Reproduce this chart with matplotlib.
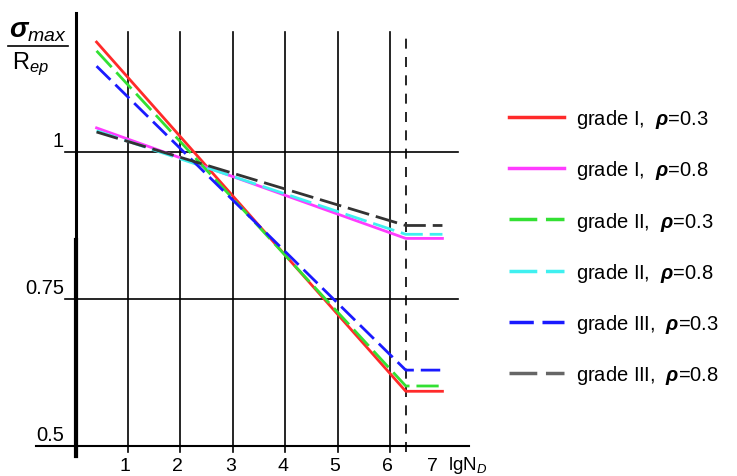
import matplotlib.pyplot as plt
from matplotlib.lines import Line2D

plt.rcParams['font.family'] = ['Liberation Sans', 'DejaVu Sans']
plt.rcParams['mathtext.fontset'] = 'custom'
plt.rcParams['mathtext.rm'] = 'Liberation Sans'
plt.rcParams['mathtext.it'] = 'Liberation Sans:italic'
plt.rcParams['mathtext.bf'] = 'Liberation Sans:bold'
plt.rcParams['mathtext.bfit'] = 'Liberation Sans:italic:bold'

# lgN_D points: start, knee (dashed line), end
lg_n = [0.4, 6.3, 7.0]

grade1_r03 = [1.187, 0.593, 0.593]
grade1_r08 = [1.041, 0.853, 0.853]
grade2_r03 = [1.172, 0.602, 0.602]
grade2_r08 = [1.036, 0.860, 0.860]
grade3_r03 = [1.146, 0.629, 0.629]
grade3_r08 = [1.034, 0.875, 0.875]

labels = [r"grade I,  $\mathbfit{\rho}$=0.3", r"grade I,  $\mathbfit{\rho}$=0.8",
          r"grade II,  $\mathbfit{\rho}$=0.3", r"grade II,  $\mathbfit{\rho}$=0.8",
          r"grade III,  $\mathbfit{\rho}$=0.3", r"grade III,  $\mathbfit{\rho}$=0.8"]
series = [grade1_r03, grade1_r08, grade2_r03, grade2_r08, grade3_r03, grade3_r08]
colors = ['#ff2a2a', '#ff3cff', '#33e033', '#3ff0f0', '#1a1aff', '#333333']
styles = ['-', '-', (0, (8, 2.5)), (0, (8, 2.5)), (0, (7, 2.5)), (0, (8, 2.5))]

x_ticks = [1, 2, 3, 4, 5, 6]
knee = 6.3

fig = plt.figure(figsize=(7.37, 4.77), dpi=100)
ax = fig.add_axes([0.0457, 0.026, 0.5973, 0.9614])
ax.set_xlim(-0.8, 7.6)
ax.set_ylim(0.47, 1.25)
ax.axis('off')

# grid / frame
for xt in x_ticks:
    ax.plot([xt, xt], [0.49, 1.204], color='black', lw=1.2, clip_on=False)
ax.plot([knee, knee], [0.49, 1.204], color='black', lw=1.2, ls=(0, (6, 5)), clip_on=False)
for yv in [1.0, 0.75]:
    ax.plot([-0.2, 7.3], [yv, yv], color='black', lw=1.2, clip_on=False)
ax.plot([-0.75, 7.5], [0.5, 0.5], color='black', lw=1.5, clip_on=False)
ax.plot([0, 0], [0.483, 1.236], color='black', lw=2.2, clip_on=False)
ax.plot([0, 0], [0.483, 0.85], color='black', lw=3.0, clip_on=False)

for ys, c, ls, lab in zip(series, colors, styles, labels):
    ax.plot(lg_n, ys, color=c, ls=ls, lw=2.0, label=lab, clip_on=False)

# tick labels
for xt in x_ticks + [7]:
    ax.text(xt - 0.05 if xt < 7 else 6.8, 0.466, str(xt), ha='center', va='center', fontsize=14)
ax.text(7.48, 0.469, r"lgN$_{\mathit{D}}$", ha='center', va='center', fontsize=13.5)
for yv, lab in [(1.0, "1"), (0.75, "0.75"), (0.5, "0.5")]:
    ax.text(-0.22, yv + 0.003, lab, ha='right', va='bottom', fontsize=14.5)

# y label as a fraction
fig.text(38 / 737, 1 - 31 / 477, r"$\mathbfit{\sigma}_{\mathit{max}}$", ha='center', va='center', fontsize=20)
fig.add_artist(Line2D([8 / 737, 68 / 737], [1 - 47 / 477, 1 - 47 / 477], color='black', lw=1.2))
fig.text(31 / 737, 1 - 64 / 477, r"R$_{\mathit{ep}}$", ha='center', va='center', fontsize=17)

leg_handles = []
for c, ls, lab in zip(colors, styles, labels):
    lc = '#666666' if c == '#333333' else c
    leg_handles.append(Line2D([], [], color=lc, ls=ls, lw=2.5, label=lab))
fig.legend(handles=leg_handles, loc='upper left', bbox_to_anchor=(491 / 737, 1 - 90 / 477),
           frameon=False, fontsize=14.5, handlelength=2.7, handletextpad=0.6, labelspacing=1.4)

fig.savefig("out.png", dpi=100)
